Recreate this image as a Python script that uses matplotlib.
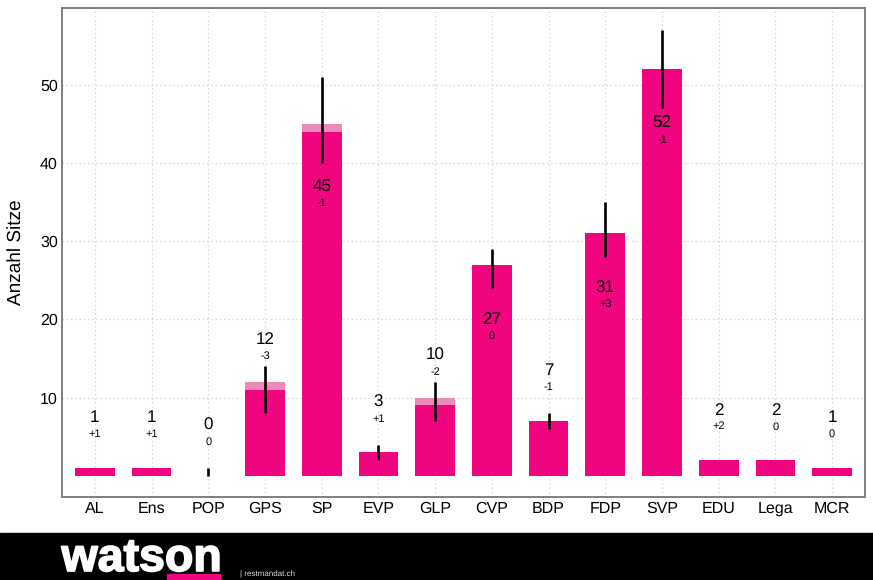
import numpy as np
import matplotlib
matplotlib.use("Agg")
import matplotlib.pyplot as plt
import matplotlib.patheffects as pe
from matplotlib.patches import Rectangle

plt.rcParams['font.family'] = ['Liberation Sans', 'DejaVu Sans']
plt.rcParams['text.hinting'] = 'no_hinting'
plt.rcParams['text.hinting_factor'] = 1

parties = ["AL", "Ens", "POP", "GPS", "SP", "EVP", "GLP", "CVP", "BDP", "FDP", "SVP", "EDU", "Lega", "MCR"]
seats = [1, 1, 0, 12, 45, 3, 10, 27, 7, 31, 52, 2, 2, 1]
seats_low = [1, 1, 0, 11, 44, 3, 9, 27, 7, 31, 52, 2, 2, 1]
range_low = [None, None, 0, 8, 40, 2, 7, 24, 6, 28, 47, None, None, None]
range_high = [None, None, 1, 14, 51, 4, 12, 29, 8, 35, 57, None, None, None]
changes = ["+1", "+1", "0", "-3", "-1", "+1", "-2", "0", "-1", "+3", "-1", "+2", "0", "0"]
yticks = [10, 20, 30, 40, 50]

PINK = "#F0047F"
LIGHT = "#EC8AB9"
W, H = 873, 580


def main():
    fig = plt.figure(figsize=(W / 100, H / 100), dpi=100)
    ax = fig.add_axes([62 / W, 1 - 497 / H, (865 - 62) / W, (497 - 8) / H])
    x = np.arange(len(parties))

    ax.bar(x, seats, width=0.7, color=LIGHT, zorder=2)
    ax.bar(x, seats_low, width=0.7, color=PINK, zorder=3)

    for i in x:
        if range_low[i] is not None:
            ax.plot([i, i], [range_low[i], range_high[i]], color="black", lw=1.9,
                    solid_capstyle="butt", zorder=4)
        # labels sit above small bars, inside the tall ones
        if seats_low[i] < 20:
            y = seats_low[i] + 6.4
        else:
            y = seats_low[i] - 7
        ax.text(i, y, str(seats[i]), ha="center", va="center", fontsize=12, color="black", zorder=5)
        ax.text(i, y - 2.1, changes[i], ha="center", va="center", fontsize=8, color="black", zorder=5)

    ax.set_xlim(-0.58, 13.58)
    ax.set_ylim(-2.7, 59.8)
    ax.set_xticks(x)
    ax.set_xticklabels(parties)
    ax.set_yticks(yticks)
    ax.tick_params(axis="both", labelsize=11.5, length=0, colors="black", pad=3)
    ax.set_ylabel("Anzahl Sitze", fontsize=14, labelpad=11)
    ax.grid(True, color="#d8d8d8", linestyle=(0, (1.2, 2.2)), linewidth=0.9, zorder=0)
    ax.set_axisbelow(True)
    for s in ax.spines.values():
        s.set_color("#7f7f7f")
        s.set_linewidth(1.4)

    # black footer with logo
    fig.patches.append(Rectangle((0, 0), 1, 47 / H, transform=fig.transFigure, color="black", zorder=1))
    fig.patches.append(Rectangle((167 / W, 0), 53 / W, 6 / H, transform=fig.transFigure, color=PINK, zorder=3))
    fig.text(61.5 / W, 1 - 571 / H, "watson", color="white", fontsize=33.5, fontweight="bold",
             ha="left", va="baseline", zorder=4,
             path_effects=[pe.withStroke(linewidth=1.2, foreground="white")])
    fig.text(240 / W, 1 - 574 / H, "| restmandat.ch", color="#dddddd", fontsize=5.5,
             ha="left", va="center", zorder=4)

    fig.savefig("out.png", dpi=100)


if __name__ == '__main__':
    main()
